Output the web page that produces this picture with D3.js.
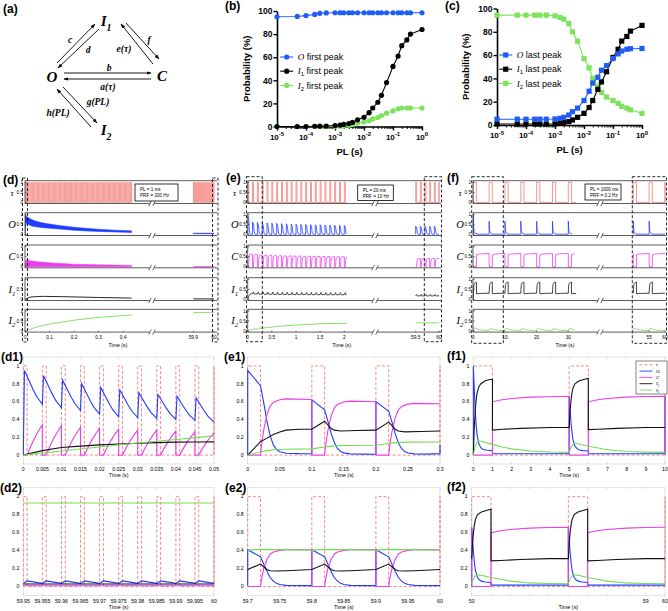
<!DOCTYPE html>
<html><head><meta charset="utf-8">
<script src="https://cdn.jsdelivr.net/npm/d3@7"></script>
<style>html,body{margin:0;padding:0;background:#fff;} svg{display:block;}</style>
</head><body>
<svg id="fig" width="668" height="611" xmlns="http://www.w3.org/2000/svg"></svg>
<script>
// ======================= DATA =======================
// (b), (c): peak probabilities (%) versus pulse length PL (s)
const plValues    = [1e-5,5e-5,1e-4,2e-4,3e-4,5e-4,1e-3,1.5e-3,2e-3,3e-3,4e-3,6e-3,1e-2,1.5e-2,2e-2,3e-2,4e-2,6e-2,0.1,0.15,0.2,0.3,0.4,1];
const oFirstPeak  = [95,95.3,96,97,98,98.3,98.5,98.5,98.5,98.5,98.5,98.5,98.5,98.5,98.5,98.5,98.5,98.5,98.5,98.5,98.5,98.5,98.5,98.5];
const i1FirstPeak = [0,0,0,0.2,0.3,0.4,0.8,1.2,1.8,2.5,3.5,5.8,8,12,16,21,27,38,52,61,70,75,80,84];
const i2FirstPeak = [0,0,0,0,0,0,0.1,0.3,0.5,1,1.8,3,4,5,6.6,7.8,9.5,11.5,13.5,15.3,16,16,16,16];
const oLastPeak   = [5,5,5,5,5,5,5.2,5.7,6.6,8.6,11.4,14.5,21,29,36,41,47,51,57,61,63.5,65,65.5,65.7];
const i1LastPeak  = [0.8,0.8,0.8,0.8,0.8,0.8,0.9,1.4,2,2.9,4.3,6.6,10,15,21,30.6,37,45.7,58,65,72,76,80.6,85.5];
const i2LastPeak  = [94.3,94.3,94.3,94.3,94.3,94.3,93.7,92.3,90.9,87,80,72,57,49,40,33,28,24,21,18.6,16,14.5,13,10];
const plTickExp   = ['-5','-4','-3','-2','-1','0'];

// stimulation parameters of (d), (e), (f)
const stimPL  = {d:0.001, e:0.02, f:1};     // s
const stimPRF = {d:200,   e:10,   f:0.2};   // Hz
const boxTextD = ['PL = 1 ms','PRF = 200 Hz'];
const boxTextE = ['PL = 20 ms','PRF = 10 Hz'];
const boxTextF = ['PL = 1000 ms','PRF = 0.2 Hz'];

// (d1): per-pulse O peak / trough, C peak; slow traces [t, value]
const d1OPeak   = [0.95,0.89,0.84,0.80,0.76,0.73,0.70,0.68,0.66,0.64];
const d1OTrough = [0.57,0.53,0.50,0.46,0.43,0.42,0.41,0.40,0.39,0.37];
const d1CPeak   = [0.34,0.33,0.31,0.30,0.29,0.28,0.28,0.27,0.26,0.25];
const d1I1 = [[0,0],[0.005,0.05],[0.01,0.085],[0.015,0.1],[0.02,0.115],[0.025,0.125],[0.03,0.133],[0.035,0.14],[0.04,0.145],[0.045,0.147],[0.05,0.148]];
const d1I2 = [[0,0],[0.01,0.045],[0.02,0.09],[0.03,0.135],[0.04,0.175],[0.05,0.215]];
const dOShape = [[0.0003,1],[0.0015,0.7],[0.0025,0.45],[0.0035,0.23],[0.005,0]];
const dCShape = [[0.001,0],[0.002,0.3],[0.003,0.57],[0.004,0.8],[0.005,1]];
// (d2): steady state
const d2OLevels = [0.035,0.062];
const d2CLevel = 0.008, d2I1Level = 0.028, d2I2Level = 0.93;
// (d): envelopes of the dense oscillations [t, low, high]
const dBandT  = [0,0.005,0.01,0.02,0.05,0.1,0.15,0.2,0.3,0.435];
const dOHigh  = [0.95,0.92,0.87,0.79,0.64,0.52,0.43,0.36,0.26,0.18];
const dOLow   = [0,0.57,0.53,0.46,0.37,0.31,0.26,0.21,0.15,0.1];
const dCHigh  = [0,0.34,0.33,0.3,0.25,0.2,0.16,0.13,0.1,0.07];
const dI1 = [[0,0],[0.02,0.115],[0.05,0.148],[0.08,0.155],[0.15,0.14],[0.3,0.1],[0.435,0.07]];
const dI2 = [[0,0],[0.05,0.215],[0.1,0.35],[0.2,0.54],[0.3,0.68],[0.435,0.8]];
const dRightO = [0.035,0.065], dRightC = [0,0.012], dRightI1 = 0.03, dRightI2 = 0.925;

// (e)/(e1): per-pulse values
const ePeakO  = [0.95,0.62,0.60,0.58,0.57,0.56,0.55,0.54,0.53,0.52,0.51,0.50,0.50,0.49,0.48,0.48,0.47,0.47,0.46,0.46,0.45];
const eLevelC = [0.63,0.605,0.58,0.57,0.56,0.55,0.55,0.54,0.54,0.53,0.53,0.52,0.52,0.52,0.51,0.51,0.51,0.50,0.50,0.50,0.50];
const eBaseI1 = [0.29,0.28,0.275,0.27,0.27,0.265,0.265,0.26,0.26,0.26,0.26,0.255,0.255,0.255,0.255,0.25,0.25,0.25,0.25,0.25];
const eFirstI1 = [[0,0],[0.02,0.15],[0.03,0.19],[0.04,0.23],[0.05,0.26],[0.06,0.28],[0.08,0.29],[0.1,0.29]];
const eOShape  = [[0,1],[0.02,0.82],[0.025,0.62],[0.03,0.4],[0.035,0.23],[0.04,0.12],[0.045,0.065],[0.05,0.04],[0.06,0.022],[0.08,0.017],[0.1,0.016]];
const eCShape  = [[0,0],[0.02,0],[0.022,0.22],[0.025,0.45],[0.03,0.72],[0.035,0.87],[0.04,0.94],[0.05,0.985],[0.06,1],[0.1,0.99]];
const eI1Shape = [[0.02,0.09],[0.025,0.05],[0.03,0.01],[0.035,-0.01],[0.045,-0.02],[0.07,-0.015],[0.1,-0.01]];
const eI2 = [[0,0],[0.02,0.035],[0.03,0.05],[0.04,0.06],[0.06,0.065],[0.1,0.07],[0.12,0.09],[0.13,0.1],[0.15,0.107],[0.2,0.11],[0.22,0.13],[0.23,0.14],[0.25,0.145],[0.3,0.146],[0.5,0.2],[0.75,0.26],[1,0.3],[1.5,0.36],[2.05,0.39]];
// (e2): steady-state cycle, [offset from pulse onset, value]
const e2OCycle  = [[0,0.01],[0,0.41],[0.02,0.33],[0.025,0.25],[0.03,0.17],[0.035,0.1],[0.04,0.06],[0.045,0.035],[0.05,0.022],[0.06,0.013],[0.1,0.01]];
const e2CCycle  = [[0,0],[0.02,0],[0.022,0.1],[0.025,0.2],[0.03,0.3],[0.035,0.36],[0.04,0.385],[0.05,0.402],[0.06,0.41],[0.1,0.41]];
const e2I1Cycle = [[0,0.19],[0.02,0.25],[0.025,0.22],[0.03,0.19],[0.035,0.176],[0.045,0.172],[0.06,0.176],[0.1,0.19]];
const e2I2Cycle = [[0,0.405],[0.02,0.413],[0.04,0.411],[0.1,0.405]];

// (f)/(f1)/(f2): first cycle and repeating cycle, [offset from onset, value]
const fFirstO  = [[0,0],[0,1.0],[0.05,0.75],[0.1,0.5],[0.15,0.33],[0.2,0.22],[0.3,0.12],[0.4,0.08],[0.5,0.065],[0.7,0.055],[1,0.05],[1,0.015],[5,0.015]];
const fFirstC  = [[0,0],[1,0],[1,0.6],[1.5,0.62],[2,0.635],[3,0.65],[4,0.655],[5,0.66]];
const fFirstI1 = [[0,0],[0.05,0.3],[0.1,0.5],[0.15,0.62],[0.2,0.7],[0.3,0.77],[0.4,0.8],[0.6,0.83],[0.8,0.845],[1,0.85],[1,0.28],[1.5,0.29],[2.5,0.3],[4,0.31],[5,0.31]];
const fFirstI2 = [[0,0],[0.1,0.1],[0.2,0.145],[0.3,0.16],[0.5,0.15],[1,0.12],[1.5,0.09],[2,0.07],[3,0.045],[4,0.035],[5,0.03]];
const fOCycle  = [[0,0.015],[0,0.66],[0.05,0.5],[0.1,0.36],[0.15,0.25],[0.2,0.17],[0.3,0.1],[0.4,0.075],[0.5,0.06],[0.7,0.05],[1,0.045],[1,0.015],[5,0.015]];
const fCCycle  = [[0,0.66],[0,0],[1,0],[1,0.6],[1.5,0.62],[2,0.635],[3,0.65],[4,0.657],[5,0.66]];
const fI1Cycle = [[0,0.31],[0.05,0.5],[0.1,0.62],[0.15,0.7],[0.2,0.75],[0.3,0.8],[0.5,0.83],[0.8,0.85],[1,0.86],[1,0.285],[1.5,0.29],[2.5,0.3],[4,0.31],[5,0.31]];
const fI2Cycle = [[0,0.03],[0.1,0.09],[0.2,0.12],[0.3,0.13],[0.5,0.125],[1,0.1],[1.5,0.08],[2,0.06],[3,0.04],[4,0.033],[5,0.03]];

// ======================= DRAWING =======================
const EPS = 1e-9;
const svg = d3.select('#fig');
const defs = svg.append('defs');
const SANS = "'Liberation Sans', Arial, Helvetica, sans-serif";
const SERIF = "'Liberation Serif', 'DejaVu Serif', 'Times New Roman', serif";
const COL = {tau:'#f27d78', O:'#1f3cff', C:'#ec3cec', I1:'#111111', I2:'#74dc52'};
const PCOL = {O:'#1f5cf5', I1:'#000000', I2:'#7de35c'};
let clipN = 0;
function clipRect(x0,y0,x1,y1){const id='cp'+(clipN++);defs.append('clipPath').attr('id',id).append('rect').attr('x',x0).attr('y',y0).attr('width',x1-x0).attr('height',y1-y0);return `url(#${id})`;}
function txt(g,x,y,s,o={}){const t=g.append('text').attr('x',x).attr('y',y).text(s).attr('font-family',o.ff||SANS).attr('font-size',o.fs||8).attr('font-weight',o.fw||'normal').attr('font-style',o.fst||'normal').attr('text-anchor',o.anchor||'start').attr('fill',o.fill||'#000');if(o.rot!==undefined)t.attr('transform',`rotate(${o.rot},${x},${y})`);return t;}
function symText(g,x,y,sym,sub,fs,anchor,fw){
  const t=g.append('text').attr('x',x).attr('y',y).attr('font-family',SERIF).attr('font-style','italic').attr('font-weight',fw||'normal').attr('font-size',fs).attr('text-anchor',anchor||'middle');
  t.append('tspan').text(sym);
  if(sub) t.append('tspan').attr('font-size',fs*0.65).attr('dy',fs*0.3).text(sub);
  return t;
}
function pulseOnsets(t0,t1,prf){const a=[];for(let k=Math.round(t0*prf);k<=Math.floor(t1*prf+1e-6);k++)a.push(k/prf);return a;}
function pulseTrain(onsets,pl,t0,t1){const p=[[t0,0]];onsets.forEach(s=>{const e=Math.min(s+pl,t1);p.push([s,0],[s,1],[e,1],[e,0]);});p.push([t1,0]);return p;}
function repeatCycle(onsets,cyc,tEnd){const p=[];onsets.forEach(t=>cyc.forEach(([dt,v])=>{if(t+dt<=tEnd+EPS)p.push([t+dt,v]);}));return p;}
function scaledCycles(onsets,shape,scale,tEnd,start){const p=start?[start]:[];onsets.forEach((t,k)=>shape.forEach(([dt,f])=>{if(t+dt<=tEnd+EPS)p.push([t+dt,f*scale[k]]);}));return p;}
const upTo=(arr,t)=>arr.filter(d=>d[0]<=t+EPS);

// ---------- panel labels
[['(a)',3,13],['(b)',225,10],['(c)',445,10],['(d)',3,184],['(e)',226,182],['(f)',447,182],
 ['(d1)',1,360.5],['(e1)',224,360.5],['(f1)',447,359.5],['(d2)',0,491.5],['(e2)',225,491.5],['(f2)',447,491]]
 .forEach(([s,x,y])=>txt(svg,x,y,s,{fs:12,fw:'bold'}));

// ---------- (a) state diagram
(function(){
  const g=svg.append('g');
  defs.append('marker').attr('id','ah').attr('viewBox','0 0 10 10').attr('refX',9).attr('refY',5)
    .attr('markerWidth',5.5).attr('markerHeight',5.5).attr('orient','auto')
    .append('path').attr('d','M0,1.5 L10,5 L0,8.5 z').attr('fill','#000');
  const arrows=[[57,63,95,24],[99,29,58,68],[126,23,159,59],[153,64,121,24],[64,73,151,73],[151,79,64,79],[63,87,97,123],[91,127,57,89]];
  arrows.forEach(a=>g.append('line').attr('x1',a[0]).attr('y1',a[1]).attr('x2',a[2]).attr('y2',a[3]).attr('stroke','#000').attr('stroke-width',0.9).attr('marker-end','url(#ah)'));
  symText(g,52,82,'O','',15,'middle','bold');
  symText(g,106,26,'I','1',15,'middle','bold');
  symText(g,162,81,'C','',15,'middle','bold');
  symText(g,106,135,'I','2',15,'middle','bold');
  [['c',70,43],['d',88,53],['e(τ)',124,52],['f',149,43],['b',109,71],['a(τ)',108,90],['g(PL)',98,105],['h(PL)',58,116]]
    .forEach(([s,x,y])=>txt(g,x,y,s,{ff:SERIF,fst:'italic',fw:'bold',fs:9.5,anchor:'middle'}));
})();

// ---------- (b), (c)
function plPanel(o){
  const g=svg.append('g');
  const x=d3.scaleLog().domain([1e-5,1]).range([o.x0,o.x1]);
  const y=d3.scaleLinear().domain([0,100]).range([o.yb,o.yt]);
  const decades=[1e-5,1e-4,1e-3,1e-2,1e-1,1];
  const minor=[];decades.slice(0,-1).forEach(d=>{for(let m=2;m<10;m++)minor.push(d*m);});
  const gm=g.append('g').attr('transform',`translate(0,${o.yb})`).call(d3.axisBottom(x).tickValues(minor).tickSize(2.5).tickSizeOuter(0).tickFormat(''));
  gm.select('.domain').remove(); gm.selectAll('line').attr('stroke-width',1);
  const gx=g.append('g').attr('transform',`translate(0,${o.yb})`).call(d3.axisBottom(x).tickValues(decades).tickSize(4).tickSizeOuter(0).tickFormat(''));
  gx.selectAll('line').attr('stroke-width',1.4); gx.select('.domain').attr('stroke-width',1.6);
  decades.forEach((d,i)=>{const t=g.append('text').attr('x',x(d)).attr('y',o.yb+13).attr('text-anchor','middle').attr('font-family',SANS).attr('font-weight','bold').attr('font-size',8);
    t.append('tspan').text('10');t.append('tspan').attr('dy',-3.5).attr('font-size',6).text(plTickExp[i]);});
  const gy=g.append('g').attr('transform',`translate(${o.x0},0)`).call(d3.axisLeft(y).tickValues([0,20,40,60,80,100]).tickSize(3.5).tickSizeOuter(0));
  gy.selectAll('line').attr('stroke-width',1.4); gy.select('.domain').attr('stroke-width',1.6);
  gy.selectAll('text').attr('font-family',SANS).attr('font-weight','bold').attr('font-size',8.5).attr('x',-4.5);
  txt(g,o.ylx,(o.yt+o.yb)/2,'Probability (%)',{fw:'bold',fs:9.5,anchor:'middle',rot:-90});
  txt(g,(o.x0+o.x1)/2,o.yb+28,'PL (s)',{fw:'bold',fs:9.5,anchor:'middle'});
  const line=d3.line().x((d,i)=>x(plValues[i])).y(d=>y(d));
  o.series.slice().reverse().forEach(s=>{
    g.append('path').attr('d',line(s.vals)).attr('fill','none').attr('stroke',s.color).attr('stroke-width',1.1);
    s.vals.forEach((v,i)=>{
      if(o.marker==='circle') g.append('circle').attr('cx',x(plValues[i])).attr('cy',y(v)).attr('r',2.6).attr('fill',s.color);
      else g.append('rect').attr('x',x(plValues[i])-2.6).attr('y',y(v)-2.6).attr('width',5.2).attr('height',5.2).attr('fill',s.color);
    });
  });
  o.series.forEach((s,i)=>{
    const ly=o.ly+i*14.2;
    g.append('line').attr('x1',o.lx-6.5).attr('x2',o.lx+6.5).attr('y1',ly).attr('y2',ly).attr('stroke',s.color).attr('stroke-width',1.1);
    if(o.marker==='circle') g.append('circle').attr('cx',o.lx).attr('cy',ly).attr('r',2.6).attr('fill',s.color);
    else g.append('rect').attr('x',o.lx-2.6).attr('y',ly-2.6).attr('width',5.2).attr('height',5.2).attr('fill',s.color);
    const t=g.append('text').attr('x',o.lx+11).attr('y',ly+3.2).attr('font-family',SANS).attr('font-size',9);
    t.append('tspan').attr('font-family',SERIF).attr('font-style','italic').text(s.sym);
    if(s.sub) t.append('tspan').attr('font-size',6).attr('dy',2).text(s.sub);
    t.append('tspan').attr('dy',s.sub?-2:0).text(' '+s.label);
  });
}
plPanel({x0:277,x1:422,yt:11,yb:126.5,ylx:250,lx:286.7,ly:57,marker:'circle',series:[
  {vals:oFirstPeak,color:PCOL.O,sym:'O',sub:'',label:'first peak'},
  {vals:i1FirstPeak,color:PCOL.I1,sym:'I',sub:'1',label:'first peak'},
  {vals:i2FirstPeak,color:PCOL.I2,sym:'I',sub:'2',label:'first peak'}]});
plPanel({x0:497,x1:642,yt:8.5,yb:125,ylx:469,lx:505.7,ly:55,marker:'square',series:[
  {vals:oLastPeak,color:PCOL.O,sym:'O',sub:'',label:'last peak'},
  {vals:i1LastPeak,color:PCOL.I1,sym:'I',sub:'1',label:'last peak'},
  {vals:i2LastPeak,color:PCOL.I2,sym:'I',sub:'2',label:'last peak'}]});

// ---------- stacked overview panels (d), (e), (f)
const rowTops=[180.7,212.7,245.0,277.7,309.3], rowH=22.8;
const rowSyms=[['τ',''],['O',''],['C',''],['I','1'],['I','2']];
function stackPanel(P){
  const g=svg.append('g');
  const xL=d3.scaleLinear().domain(P.domL).range(P.rangeL);
  const xR=d3.scaleLinear().domain(P.domR).range(P.rangeR);
  const cL=clipRect(P.x0,170,P.brk,340), cR=clipRect(P.brk,170,P.x1+1,340);
  rowTops.forEach((top,i)=>{
    const bot=top+rowH;
    const y=d3.scaleLinear().domain([-0.05,1.08]).range([bot,top]);
    ['L','R'].forEach(seg=>{
      const x=seg==='L'?xL:xR;
      const gs=g.append('g').attr('clip-path',seg==='L'?cL:cR);
      (P.rows[i][seg]||[]).forEach(s=>{
        if(s.band) gs.append('path').attr('d',d3.area().x(d=>x(d[0])).y0(d=>y(d[1])).y1(d=>y(d[2])).curve(d3.curveMonotoneX)(s.band)).attr('fill',s.color).attr('stroke',s.color).attr('stroke-width',0.5);
        else gs.append('path').attr('d',d3.line().x(d=>x(d[0])).y(d=>y(d[1]))(s.pts)).attr('fill','none').attr('stroke',s.color).attr('stroke-width',s.w||0.9);
      });
    });
    const fl=(x1,y1,x2,y2)=>g.append('line').attr('x1',x1).attr('y1',y1).attr('x2',x2).attr('y2',y2).attr('stroke','#333').attr('stroke-width',0.8);
    fl(P.x0,top,P.x1,top); fl(P.x0,bot,P.x1,bot); fl(P.x0,top,P.x0,bot);
    [0,0.5,1].forEach(v=>{fl(P.x0,y(v),P.x0+1.5,y(v)); txt(g,P.x0-2,y(v)+1.6,String(v),{fs:4.6,anchor:'end'});});
    g.append('rect').attr('x',P.brk-2.2).attr('y',bot-3).attr('width',4.4).attr('height',6).attr('fill','#fff');
    fl(P.brk-3.3,bot+2.5,P.brk-0.7,bot-2.5); fl(P.brk+0.7,bot+2.5,P.brk+3.3,bot-2.5);
    symText(g,P.x0-13,top+rowH/2+3.5,rowSyms[i][0],rowSyms[i][1],i===0?9:10.5,'middle');
  });
  const bot=rowTops[4]+rowH;
  P.ticksL.forEach(t=>{g.append('line').attr('x1',xL(t)).attr('x2',xL(t)).attr('y1',bot).attr('y2',bot-1.5).attr('stroke','#333').attr('stroke-width',0.6);txt(g,xL(t),bot+6.5,String(t),{fs:4.8,anchor:'middle'});});
  P.ticksR.forEach(t=>{g.append('line').attr('x1',xR(t)).attr('x2',xR(t)).attr('y1',bot).attr('y2',bot-1.5).attr('stroke','#333').attr('stroke-width',0.6);txt(g,xR(t),bot+6.5,String(t),{fs:4.8,anchor:'middle'});});
  txt(g,P.timeX,bot+14.5,'Time (s)',{fs:5.2,anchor:'middle'});
  g.append('rect').attr('x',P.box[0]).attr('y',P.box[1]).attr('width',P.box[2]).attr('height',P.box[3]).attr('fill','#fff').attr('stroke','#000').attr('stroke-width',0.8);
  P.boxText.forEach((s,k)=>txt(g,P.box[0]+5,P.box[1]+6.5+k*6,s,{fs:4.6}));
  P.dash.forEach(d=>g.append('rect').attr('x',d[0]).attr('y',d[2]).attr('width',d[1]-d[0]).attr('height',d[3]-d[2]).attr('fill','none').attr('stroke','#111').attr('stroke-width',0.9).attr('stroke-dasharray','3,2'));
}

// ---------- detail panels
function detailPanel(P){
  const g=svg.append('g');
  const x=d3.scaleLinear().domain(P.dom).range([P.x0,P.x1]);
  const y=d3.scaleLinear().domain([-0.1,1.1]).range([P.yb,P.yt]);
  g.append('rect').attr('x',P.x0).attr('y',P.yt).attr('width',P.x1-P.x0).attr('height',P.yb-P.yt).attr('fill','none').attr('stroke','#d4d4d4').attr('stroke-width',0.6);
  P.xticks.forEach((t,i)=>{const xx=x(t);
    g.append('line').attr('x1',xx).attr('x2',xx).attr('y1',P.yb).attr('y2',P.yb-1.8).attr('stroke','#bbb').attr('stroke-width',0.5);
    g.append('line').attr('x1',xx).attr('x2',xx).attr('y1',P.yt).attr('y2',P.yt+1.8).attr('stroke','#bbb').attr('stroke-width',0.5);
    const lab=P.xlabels?P.xlabels[i]:String(t);
    if(lab) txt(g,xx,P.yb+7,lab,{fs:5.2,anchor:'middle'});});
  [0,0.2,0.4,0.6,0.8,1].forEach(v=>{g.append('line').attr('x1',P.x0).attr('x2',P.x0+1.8).attr('y1',y(v)).attr('y2',y(v)).attr('stroke','#bbb').attr('stroke-width',0.5);
    txt(g,P.x0-4,y(v)+1.8,String(v),{fs:5.2,anchor:'end'});});
  txt(g,(P.x0+P.x1)/2,P.yb+13,'Time (s)',{fs:5.4,anchor:'middle'});
  const gs=g.append('g').attr('clip-path',clipRect(P.x0-1,P.yt-1,P.x1+1,P.yb));
  const line=d3.line().x(d=>x(d[0])).y(d=>y(d[1]));
  P.series.forEach(s=>gs.append('path').attr('d',line(s.pts)).attr('fill','none').attr('stroke',s.color).attr('stroke-width',s.w||1.1).attr('stroke-dasharray',s.dash||null));
  return g;
}

// ---------- PL = 1 ms, PRF = 200 Hz
const onD1=pulseOnsets(0,0.05,stimPRF.d);
const d1O=[[0,0]]; onD1.slice(0,d1OPeak.length).forEach((t,k)=>dOShape.forEach(([dt,f])=>d1O.push([t+dt,d1OTrough[k]+f*(d1OPeak[k]-d1OTrough[k])])));
const d1C=[[0,0]]; onD1.slice(0,d1CPeak.length).forEach((t,k)=>{d1C.push([t,0]);dCShape.forEach(([dt,f])=>d1C.push([t+dt,f*d1CPeak[k]]));});
const onD2=pulseOnsets(59.95,60,stimPRF.d);
const d2O=[]; onD2.slice(0,-1).forEach(t=>{d2O.push([t,d2OLevels[0]],[t+stimPL.d,d2OLevels[1]],[t+1/stimPRF.d,d2OLevels[0]]);});
const onDL=pulseOnsets(0,0.435,stimPRF.d), onDR=pulseOnsets(59.9,60,stimPRF.d);

stackPanel({x0:25,x1:217,brk:152,domL:[0,0.5],rangeL:[25,147.5],domR:[59.9,60],rangeR:[193.3,214],
  ticksL:[0,0.1,0.2,0.3,0.4],ticksR:[59.9,60],timeX:118,box:[135,184,43,17],boxText:boxTextD,
  dash:[[22.5,27.5,178,342],[212.5,218,178,342]],
  rows:[
    {L:[{pts:pulseTrain(onDL,stimPL.d,0,0.436),color:COL.tau,w:0.55}],R:[{pts:pulseTrain(onDR,stimPL.d,59.9,60),color:COL.tau,w:0.55}]},
    {L:[{band:dBandT.map((t,i)=>[t,dOLow[i],dOHigh[i]]),color:COL.O}],R:[{band:[[59.9,dRightO[0],dRightO[1]],[60,dRightO[0],dRightO[1]]],color:COL.O}]},
    {L:[{band:dBandT.map((t,i)=>[t,0,dCHigh[i]]),color:COL.C}],R:[{band:[[59.9,dRightC[0],dRightC[1]],[60,dRightC[0],dRightC[1]]],color:COL.C}]},
    {L:[{pts:dI1,color:COL.I1}],R:[{pts:[[59.9,dRightI1],[60,dRightI1]],color:COL.I1}]},
    {L:[{pts:dI2,color:COL.I2}],R:[{pts:[[59.9,dRightI2],[60,dRightI2]],color:COL.I2}]}]});

detailPanel({dom:[0,0.05],x0:23.3,x1:214,yt:357,yb:464,xticks:d3.range(0,11).map(i=>i*0.005),
  xlabels:['0','0.005','0.01','0.015','0.02','0.025','0.03','0.035','0.04','0.045','0.05'],
  series:[{pts:pulseTrain(onD1,stimPL.d,0,0.05),color:COL.tau,dash:'3,2',w:0.9},{pts:d1O,color:COL.O},{pts:d1C,color:COL.C},{pts:d1I1,color:COL.I1},{pts:d1I2,color:COL.I2}]});
detailPanel({dom:[59.95,60],x0:23.3,x1:214,yt:487.7,yb:595.5,xticks:d3.range(0,11).map(i=>59.95+i*0.005),
  xlabels:['59.95','59.955','59.96','59.965','59.97','59.975','59.98','59.985','59.99','59.995','60'],
  series:[{pts:pulseTrain(onD2,stimPL.d,59.95,60),color:COL.tau,dash:'3,2',w:0.9},{pts:d2O,color:COL.O},{pts:[[59.95,d2CLevel],[60,d2CLevel]],color:COL.C},{pts:[[59.95,d2I1Level],[60,d2I1Level]],color:COL.I1},{pts:[[59.95,d2I2Level],[60,d2I2Level]],color:COL.I2}]});

// ---------- PL = 20 ms, PRF = 10 Hz
const onE=pulseOnsets(0,2.0,stimPRF.e);
const eO=scaledCycles(onE,eOShape,ePeakO,2.05,[0,0]);
const eC=scaledCycles(onE,eCShape,eLevelC,2.05,[0,0]);
const eI1=eFirstI1.slice(); onE.slice(1).forEach((t,k)=>eI1Shape.forEach(([dt,v])=>{if(t+dt<=2.05+EPS)eI1.push([t+dt,eBaseI1[k]+v]);}));
const onER=pulseOnsets(59.5,60,stimPRF.e), onERo=onER.filter(t=>t<60-EPS);
const eRO=repeatCycle(onERo,e2OCycle,60), eRC=repeatCycle(onERo,e2CCycle,60), eRI1=repeatCycle(onERo,e2I1Cycle,60), eRI2=repeatCycle(onERo,e2I2Cycle,60);

stackPanel({x0:247.7,x1:441,brk:375,domL:[0,2],rangeL:[247.7,344.3],domR:[59.5,60],rangeR:[415.7,439],
  ticksL:[0,0.5,1,1.5,2],ticksR:[59.5,60],timeX:341.7,box:[357.7,185,35.6,15.5],boxText:boxTextE,
  dash:[[246.5,262.3,176.7,341.7],[424.3,441.5,176.7,341.7]],
  rows:[
    {L:[{pts:pulseTrain(onE,stimPL.e,0,2.05),color:COL.tau,w:0.8}],R:[{pts:pulseTrain(onER,stimPL.e,59.5,60),color:COL.tau,w:0.8}]},
    {L:[{pts:eO,color:COL.O,w:0.8}],R:[{pts:eRO,color:COL.O,w:0.8}]},
    {L:[{pts:eC,color:COL.C,w:0.8}],R:[{pts:eRC,color:COL.C,w:0.8}]},
    {L:[{pts:eI1,color:COL.I1,w:0.8}],R:[{pts:eRI1,color:COL.I1,w:0.8}]},
    {L:[{pts:eI2,color:COL.I2,w:0.9}],R:[{pts:eRI2,color:COL.I2,w:0.9}]}]});

const onE1=pulseOnsets(0,0.3,stimPRF.e);
detailPanel({dom:[0,0.3],x0:247.7,x1:440,yt:357,yb:464,xticks:[0,0.05,0.1,0.15,0.2,0.25,0.3],
  series:[{pts:pulseTrain(onE1,stimPL.e,0,0.3),color:COL.tau,dash:'3,2',w:0.9},
    {pts:eO.filter(d=>d[0]<0.3-EPS).concat([[0.3,0.016],[0.3,0.11]]),color:COL.O},{pts:eC.filter(d=>d[0]<0.3-EPS).concat([[0.3,0.575]]),color:COL.C},
    {pts:upTo(eI1,0.3),color:COL.I1},{pts:upTo(eI2,0.3),color:COL.I2}]});
const onE2=pulseOnsets(59.7,60,stimPRF.e), onE2o=onE2.filter(t=>t<60-EPS);
detailPanel({dom:[59.7,60],x0:247.7,x1:440,yt:487.7,yb:595.5,xticks:[59.7,59.75,59.8,59.85,59.9,59.95,60],
  series:[{pts:pulseTrain(onE2,stimPL.e,59.7,60),color:COL.tau,dash:'3,2',w:0.9},
    {pts:repeatCycle(onE2o,e2OCycle,60),color:COL.O},{pts:repeatCycle(onE2o,e2CCycle,60),color:COL.C},
    {pts:repeatCycle(onE2o,e2I1Cycle,60),color:COL.I1},{pts:repeatCycle(onE2o,e2I2Cycle,60),color:COL.I2}]});

// ---------- PL = 1000 ms, PRF = 0.2 Hz
const onF=pulseOnsets(0,30,stimPRF.f);
const fEnd=32.5;
const fO=fFirstO.concat(repeatCycle(onF.slice(1),fOCycle,fEnd));
const fC=fFirstC.concat(repeatCycle(onF.slice(1),fCCycle,fEnd));
const fI1=fFirstI1.concat(repeatCycle(onF.slice(1),fI1Cycle,fEnd));
const fI2=fFirstI2.concat(repeatCycle(onF.slice(1),fI2Cycle,fEnd));
const onFR=pulseOnsets(50,60,stimPRF.f), onFRo=onFR.filter(t=>t<60-EPS);
const fRO=repeatCycle(onFRo,fOCycle,60), fRC=repeatCycle(onFRo,fCCycle,60), fRI1=repeatCycle(onFRo,fI1Cycle,60), fRI2=repeatCycle(onFRo,fI2Cycle,60);

stackPanel({x0:473,x1:666,brk:600,domL:[0,30],rangeL:[473.3,568.3],domR:[50,60],rangeR:[633.3,665],
  ticksL:[0,10,20,30],ticksR:[55,60],timeX:565,box:[585,184,36,16],boxText:boxTextF,
  dash:[[471.7,503.3,176.7,343.3],[632.3,666.5,176.7,343.3]],
  rows:[
    {L:[{pts:pulseTrain(onF,stimPL.f,0,fEnd),color:COL.tau,w:0.8}],R:[{pts:pulseTrain(onFR,stimPL.f,50,60),color:COL.tau,w:0.8}]},
    {L:[{pts:fO,color:COL.O,w:0.8}],R:[{pts:fRO,color:COL.O,w:0.8}]},
    {L:[{pts:fC,color:COL.C,w:0.8}],R:[{pts:fRC,color:COL.C,w:0.8}]},
    {L:[{pts:fI1,color:COL.I1,w:0.8}],R:[{pts:fRI1,color:COL.I1,w:0.8}]},
    {L:[{pts:fI2,color:COL.I2,w:0.8}],R:[{pts:fRI2,color:COL.I2,w:0.8}]}]});

const onF1=pulseOnsets(0,10,stimPRF.f);
detailPanel({dom:[0,10],x0:473.3,x1:665,yt:357,yb:464,xticks:d3.range(0,11),
  series:[{pts:pulseTrain(onF1,stimPL.f,0,10),color:COL.tau,dash:'3,2',w:0.9},
    {pts:upTo(fO,10),color:COL.O},{pts:upTo(fC,10),color:COL.C},
    {pts:upTo(fI1,10),color:COL.I1},{pts:upTo(fI2,10),color:COL.I2}]});
detailPanel({dom:[50,60],x0:471.7,x1:665,yt:487.7,yb:595.5,xticks:d3.range(50,61),
  xlabels:['50','','','','','','','','','59','60'],
  series:[{pts:pulseTrain(onFR,stimPL.f,50,60),color:COL.tau,dash:'3,2',w:0.9},
    {pts:fRO,color:COL.O},{pts:fRC,color:COL.C},{pts:fRI1,color:COL.I1},{pts:fRI2,color:COL.I2}]});

// legend of (f1)
(function(){
  const g=svg.append('g');
  g.append('rect').attr('x',636).attr('y',361).attr('width',31).attr('height',33).attr('fill','#fff').attr('stroke','#333').attr('stroke-width',0.6);
  const items=[['τ','',COL.tau,'3,2'],['O','',COL.O,null],['C','',COL.C,null],['I','1',COL.I1,null],['I','2',COL.I2,null]];
  items.forEach((it,i)=>{const ly=364.8+i*6.3;
    g.append('line').attr('x1',639.5).attr('x2',652.5).attr('y1',ly).attr('y2',ly).attr('stroke',it[2]).attr('stroke-width',0.9).attr('stroke-dasharray',it[3]);
    symText(g,656,ly+1.6,it[0],it[1],5,'start');});
})();
</script>
</body></html>
